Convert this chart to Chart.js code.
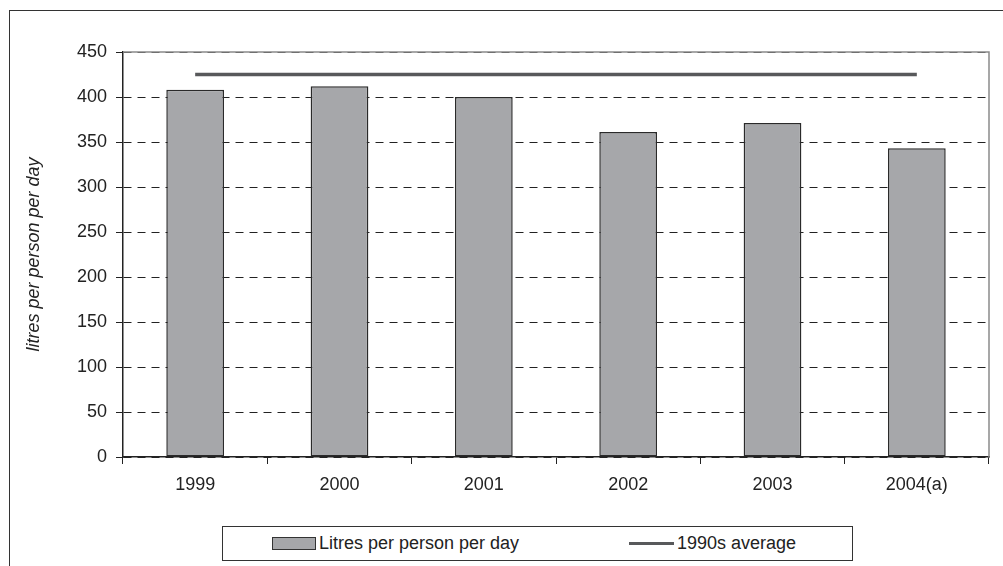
<!DOCTYPE html>
<html>
<head>
<meta charset="utf-8">
<script src="https://cdn.jsdelivr.net/npm/chart.js@4/dist/chart.umd.min.js"></script>
<style>
  html, body { margin: 0; padding: 0; background: #fff; }
  body { width: 1003px; height: 566px; position: relative; overflow: hidden; font-family: "Liberation Sans", Arial, sans-serif; }
  #frame { position: absolute; left: 9px; top: 10px; width: 1200px; height: 800px; border-left: 1px solid #333; border-top: 1px solid #333; }
  #wrap { position: absolute; left: 0; top: 0; width: 1003px; height: 566px; }
  #legend { position: absolute; left: 222px; top: 526px; width: 629px; height: 33px; border: 1px solid #333; background: #fff; font-size: 18px; color: #222; }
  .item { position: absolute; top: 0; height: 33px; display: flex; align-items: center; }
  .swatch-bar { width: 42px; height: 11px; background: #a6a7aa; border: 1px solid #333; margin-right: 3px; }
  .swatch-line { width: 45px; height: 3px; background: #58595b; margin-right: 3px; }
</style>
</head>
<body>
<div id="frame"></div>
<div id="wrap"><canvas id="chart" width="1003" height="566"></canvas></div>
<div id="legend">
  <div class="item" style="left:49px"><span class="swatch-bar"></span><span id="lab0"></span></div>
  <div class="item" style="left:406px"><span class="swatch-line"></span><span id="lab1"></span></div>
</div>
<script>
// data
const years = ['1999', '2000', '2001', '2002', '2003', '2004(a)'];
const litres = [408, 412, 400, 361, 371, 343];
const avg90s = [425, 425, 425, 425, 425, 425];
const seriesNames = ['Litres per person per day', '1990s average'];
const yTicks = [0, 50, 100, 150, 200, 250, 300, 350, 400, 450];

document.getElementById('lab0').textContent = seriesNames[0];
document.getElementById('lab1').textContent = seriesNames[1];

const FONT = '"Liberation Sans", Arial, sans-serif';

// gray plot-area border on top and right side
const plotBorder = {
  id: 'plotBorder',
  beforeDatasetsDraw(chart) {
    const { ctx, chartArea: a } = chart;
    ctx.save();
    ctx.strokeStyle = '#8a8a8a';
    ctx.lineWidth = 1.5;
    ctx.beginPath();
    ctx.moveTo(a.left, a.top);
    ctx.lineTo(a.right, a.top);
    ctx.lineTo(a.right, a.bottom);
    ctx.stroke();
    ctx.restore();
  }
};

new Chart(document.getElementById('chart'), {
  data: {
    labels: years,
    datasets: [
      {
        type: 'line',
        label: seriesNames[1],
        data: avg90s,
        borderColor: '#58595b',
        borderWidth: 3.5,
        pointRadius: 0,
        fill: false,
        order: 0
      },
      {
        type: 'bar',
        label: seriesNames[0],
        data: litres,
        backgroundColor: '#a6a7aa',
        borderColor: '#2a2a2a',
        borderWidth: 1.5,
        borderSkipped: false,
        categoryPercentage: 1,
        barPercentage: 0.4,
        order: 1
      }
    ]
  },
  plugins: [plotBorder],
  options: {
    responsive: false,
    animation: false,
    layout: { padding: { left: 0, right: 14, top: 52, bottom: 0 } },
    plugins: {
      legend: { display: false },
      tooltip: { enabled: false }
    },
    scales: {
      x: {
        grid: { display: true, drawOnChartArea: false, offset: true, tickLength: 7, tickColor: '#222', tickWidth: 1 },
        border: { color: '#222', width: 1.5 },
        ticks: { color: '#222', font: { family: FONT, size: 18 }, padding: 10, maxRotation: 0 },
        afterFit(scale) { scale.height = 109; }
      },
      y: {
        min: 0,
        max: 450,
        afterBuildTicks(scale) { scale.ticks = yTicks.map(v => ({ value: v })); },
        grid: { color: '#222', lineWidth: 1, tickLength: 7, tickColor: '#222', tickWidth: 1 },
        border: { color: '#222', width: 1.5, dash: [8, 6] },
        ticks: { color: '#222', font: { family: FONT, size: 18 }, padding: 9 },
        title: {
          display: true,
          text: 'litres per person per day',
          color: '#222',
          font: { family: FONT, size: 18, style: 'italic' },
          padding: { top: 23, bottom: 0 }
        },
        afterFit(scale) { scale.width = 123; }
      }
    }
  }
});
</script>
</body>
</html>
